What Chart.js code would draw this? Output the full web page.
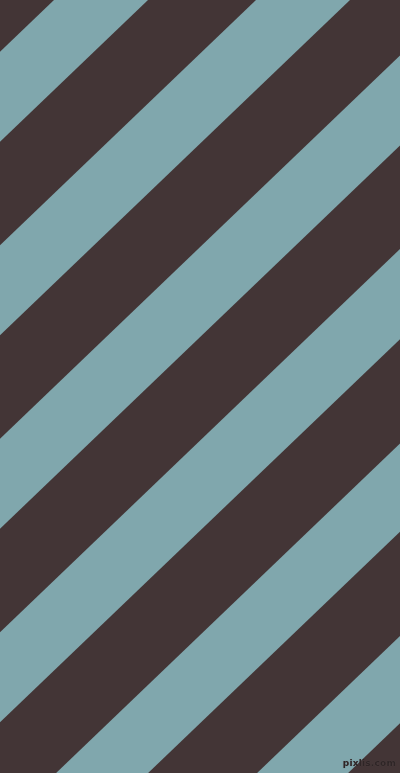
<!DOCTYPE html>
<html>
<head>
<meta charset="utf-8">
<script src="https://cdn.jsdelivr.net/npm/chart.js@4.4.1/dist/chart.umd.min.js"></script>
<style>
  html, body { margin: 0; padding: 0; background: #433536; overflow: hidden; }
  #wrap { position: relative; width: 400px; height: 773px; }
  #mark {
    position: absolute; right: 4px; bottom: 5px;
    font: bold 9px "DejaVu Sans", sans-serif; letter-spacing: 0.2px;
    color: #2e2526;
    text-shadow: 0 0 1px rgba(110, 100, 100, 0.5);
  }
</style>
</head>
<body>
<div id="wrap">
  <canvas id="stripes" width="400" height="773"></canvas>
  <div id="mark">pixlis.com</div>
</div>
<script>
// where each light band meets the top edge (x), band start and band end
const lightStart = [-148, 54, 256, 458, 660, 863, 1064, 1266];
const lightEnd = [-54, 148, 350, 552, 754, 955, 1155, 1360];
// drop of the band edges per px to the left
const slope = 0.958;
const xRange = [-20, 420];

const darkColor = "#433536";
const lightColor = "#80a7ad";

// a band edge as two points across the plot
function edge(xTop) {
  return xRange.map(x => ({ x: x, y: slope * (xTop - x) }));
}

const datasets = [];
lightStart.forEach((s, i) => {
  datasets.push({
    data: edge(s),
    showLine: true,
    borderWidth: 0,
    pointRadius: 0,
    backgroundColor: lightColor,
    fill: "+1"
  });
  datasets.push({
    data: edge(lightEnd[i]),
    showLine: true,
    borderWidth: 0,
    pointRadius: 0,
    fill: false
  });
});

const ctx = document.getElementById("stripes").getContext("2d");
new Chart(ctx, {
  type: "scatter",
  data: { datasets: datasets },
  options: {
    responsive: false,
    animation: false,
    devicePixelRatio: 1,
    layout: { padding: 0 },
    plugins: { legend: { display: false }, tooltip: { enabled: false } },
    scales: {
      x: { type: "linear", min: 0, max: 400, display: false },
      y: { type: "linear", min: 0, max: 773, reverse: true, display: false }
    }
  }
});
</script>
</body>
</html>
